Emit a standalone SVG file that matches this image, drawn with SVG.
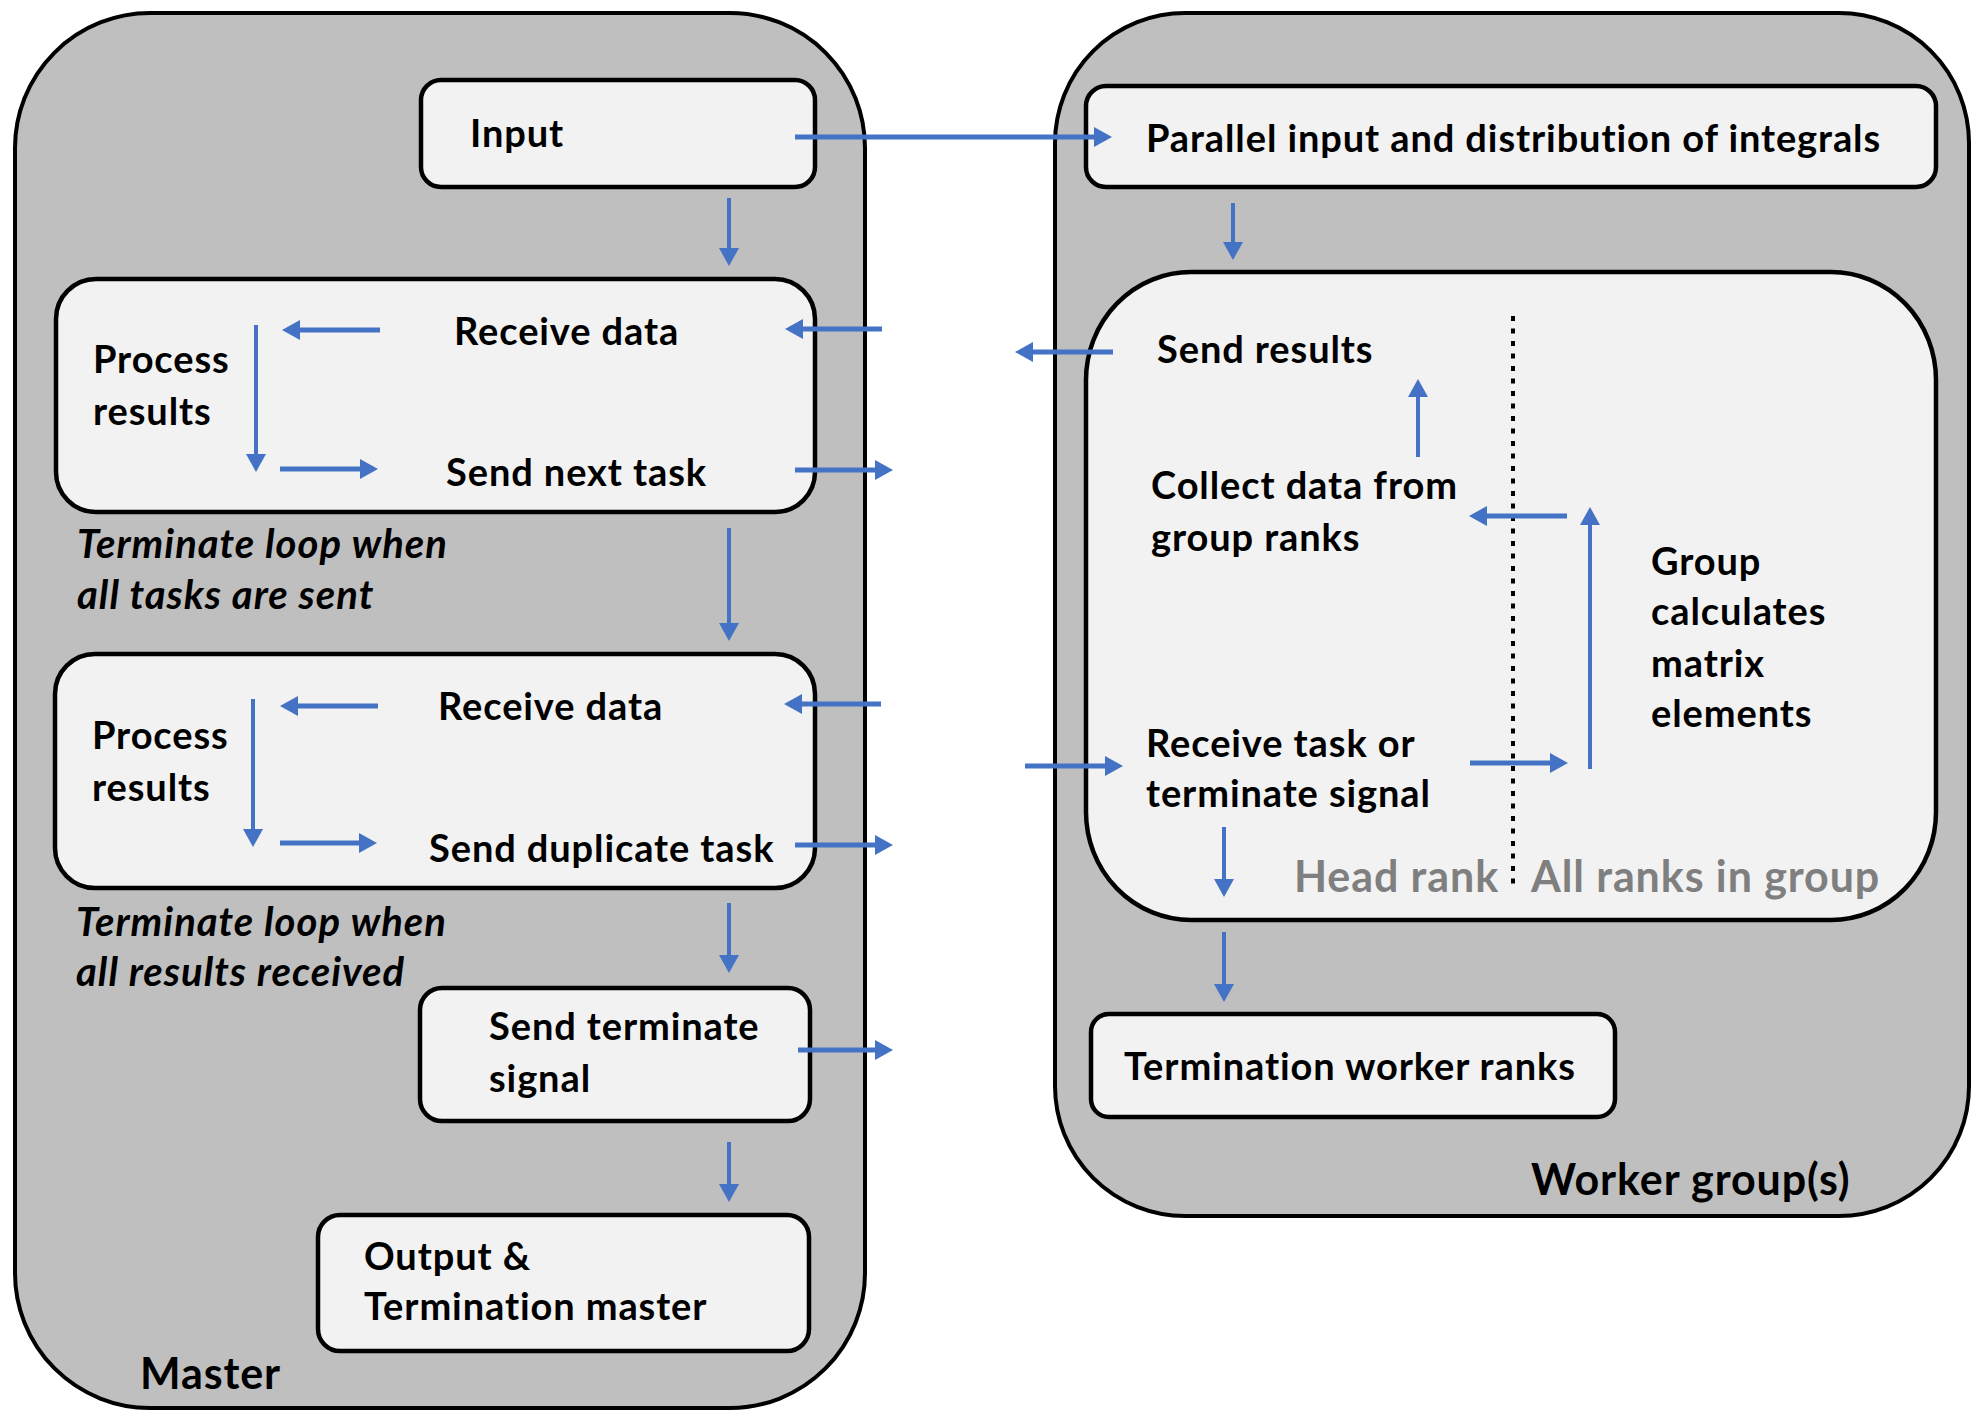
<svg xmlns="http://www.w3.org/2000/svg" width="1974" height="1411" viewBox="0 0 1974 1411">
  <style>
    .outer { fill: #bfbfbf; stroke: #000; stroke-width: 4; }
    .box { fill: #f2f2f2; stroke: #000; stroke-width: 4.5; }
    .t { font-family: Lato, "Liberation Sans", sans-serif; font-weight: bold; font-size: 38px; letter-spacing: 0.9px; fill: #000; }
    .it { font-style: italic; font-size: 40px; letter-spacing: 1px; }
    .big { font-size: 43px; letter-spacing: 0.9px; }
    .grey { fill: #7f7f7f; }
    .arr { fill: none; stroke: #4472c4; stroke-width: 5; marker-end: url(#head); }
    .varr { fill: none; stroke: #4472c4; stroke-width: 4; marker-end: url(#head); }
    .dots { fill: none; stroke: #000; stroke-width: 4; stroke-dasharray: 5 7.5; }
  </style>
  <defs>
    <marker id="head" markerUnits="userSpaceOnUse" markerWidth="18" markerHeight="20" viewBox="0 0 18 20" refX="1" refY="10" orient="auto">
      <path d="M0,0 L18,10 L0,20 z" fill="#4472c4"/>
    </marker>
  </defs>

  <!-- Master process -->
  <g id="master">
    <rect class="outer" x="15" y="13" width="850" height="1395" rx="135" ry="135"/>
    <text class="t big" x="140" y="1389">Master</text>
  </g>
  <g id="input">
    <rect class="box" x="421" y="80" width="394" height="107" rx="20"/>
    <text class="t" x="470" y="147">Input</text>
  </g>
  <g id="task-loop">
    <rect class="box" x="56" y="279" width="759" height="233" rx="40"/>
    <text class="t" x="454" y="345">Receive data</text>
    <text class="t" x="446" y="486">Send next task</text>
    <text class="t" x="93" y="373">Process</text>
    <text class="t" x="93" y="425">results</text>
  </g>
  <g id="task-loop-note">
    <text class="t it" x="77" y="558">Terminate loop when</text>
    <text class="t it" x="77" y="609">all tasks are sent</text>
  </g>
  <g id="duplicate-loop">
    <rect class="box" x="55" y="654" width="760" height="234" rx="40"/>
    <text class="t" x="438" y="720">Receive data</text>
    <text class="t" x="429" y="862">Send duplicate task</text>
    <text class="t" x="92" y="749">Process</text>
    <text class="t" x="92" y="801">results</text>
  </g>
  <g id="duplicate-loop-note">
    <text class="t it" x="76" y="936">Terminate loop when</text>
    <text class="t it" x="76" y="986">all results received</text>
  </g>
  <g id="send-terminate">
    <rect class="box" x="420" y="988" width="390" height="133" rx="22"/>
    <text class="t" x="489" y="1040">Send terminate</text>
    <text class="t" x="489" y="1092">signal</text>
  </g>
  <g id="output">
    <rect class="box" x="318" y="1215" width="491" height="136" rx="22"/>
    <text class="t" x="364" y="1270">Output &amp;</text>
    <text class="t" x="364" y="1320">Termination master</text>
  </g>

  <!-- Worker groups -->
  <g id="workers">
    <rect class="outer" x="1055" y="13" width="914" height="1203" rx="130" ry="130"/>
    <text class="t big" x="1531" y="1195">Worker group(s)</text>
  </g>
  <g id="parallel-input">
    <rect class="box" x="1086" y="86" width="850" height="101" rx="20"/>
    <text class="t" x="1146" y="152">Parallel input and distribution of integrals</text>
  </g>
  <g id="group">
    <rect class="box" x="1086" y="272" width="850" height="648" rx="105" ry="108"/>
    <path class="dots" d="M1513,316 V884"/>
    <text class="t" x="1157" y="363">Send results</text>
    <text class="t" x="1151" y="499">Collect data from</text>
    <text class="t" x="1151" y="551">group ranks</text>
    <text class="t" x="1651" y="575">Group</text>
    <text class="t" x="1651" y="625">calculates</text>
    <text class="t" x="1651" y="677">matrix</text>
    <text class="t" x="1651" y="727">elements</text>
    <text class="t" x="1146" y="757">Receive task or</text>
    <text class="t" x="1146" y="807">terminate signal</text>
    <text class="t big grey" x="1294" y="892">Head rank</text>
    <text class="t big grey" x="1531" y="892">All ranks in group</text>
  </g>
  <g id="termination-workers">
    <rect class="box" x="1091" y="1014" width="524" height="103" rx="18"/>
    <text class="t" x="1124" y="1080">Termination worker ranks</text>
  </g>

  <!-- Connectors (each path stops where its arrowhead begins) -->
  <g id="connectors">
    <path class="arr" d="M795,137 H1095"/>
    <path class="varr" d="M729,198 V249"/>
    <path class="arr" d="M882,329 H802"/>
    <path class="arr" d="M795,470 H876"/>
    <path class="arr" d="M380,330 H299"/>
    <path class="varr" d="M256,325 V455"/>
    <path class="arr" d="M280,469 H361"/>
    <path class="varr" d="M729,528 V624"/>
    <path class="arr" d="M881,704 H801"/>
    <path class="arr" d="M795,845 H876"/>
    <path class="arr" d="M378,706 H297"/>
    <path class="varr" d="M253,699 V830"/>
    <path class="arr" d="M280,843 H360"/>
    <path class="varr" d="M729,903 V956"/>
    <path class="arr" d="M798,1050 H876"/>
    <path class="varr" d="M729,1142 V1185"/>
    <path class="arr" d="M1113,352 H1032"/>
    <path class="arr" d="M1025,766 H1106"/>
    <path class="varr" d="M1233,203 V243"/>
    <path class="varr" d="M1418,457 V396"/>
    <path class="arr" d="M1567,516 H1486"/>
    <path class="varr" d="M1590,769 V524"/>
    <path class="arr" d="M1470,763 H1551"/>
    <path class="varr" d="M1224,827 V880"/>
    <path class="varr" d="M1224,932 V985"/>
  </g>
</svg>
